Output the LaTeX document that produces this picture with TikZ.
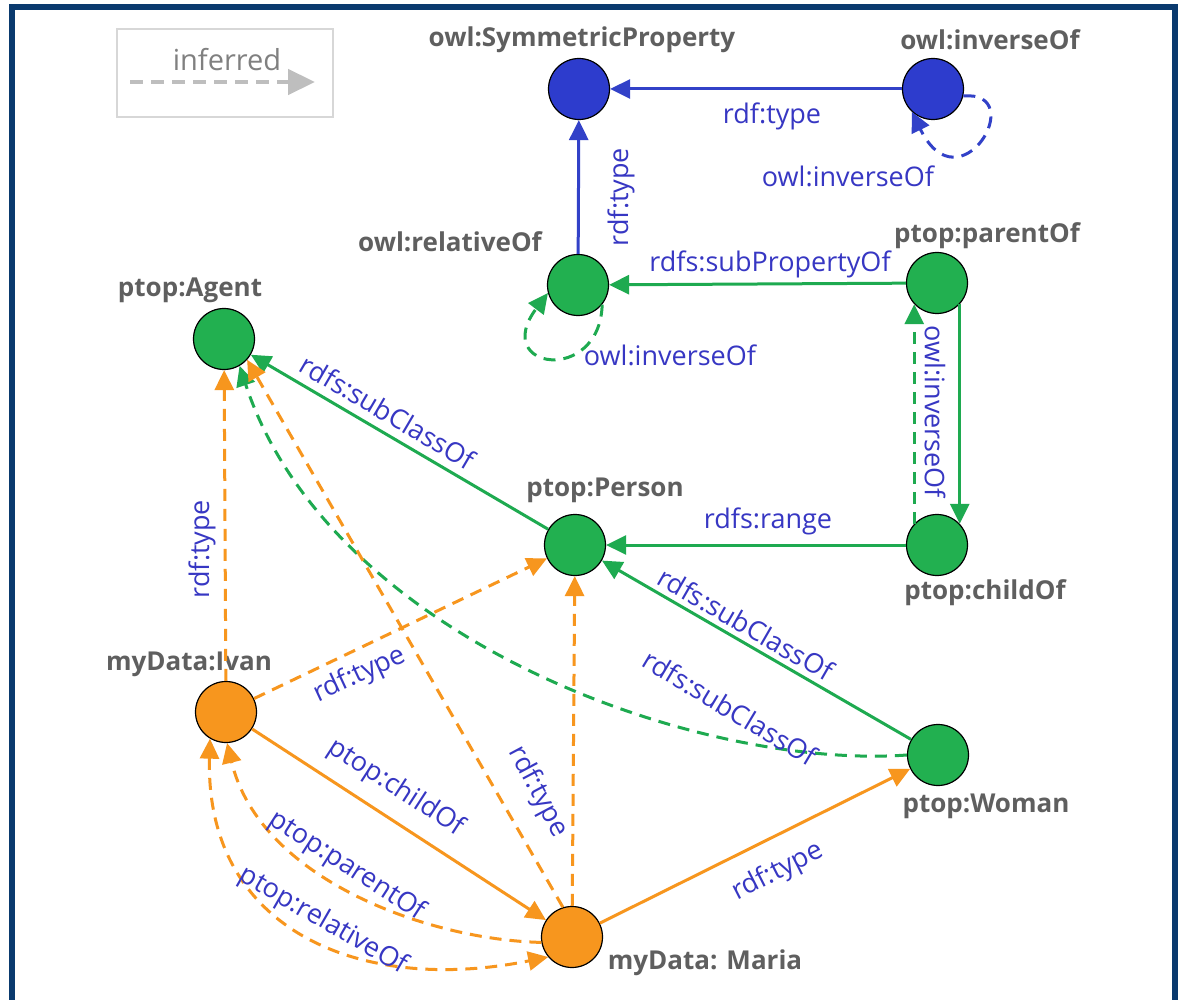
\documentclass[tikz,border=0pt]{standalone}
\usepackage{fontspec}
\setmainfont{Open Sans}
\usetikzlibrary{arrows.meta}
\definecolor{nblue}{RGB}{45,60,205}
\definecolor{ngreen}{RGB}{34,176,80}
\definecolor{norange}{RGB}{247,150,30}
\definecolor{eblue}{RGB}{50,65,200}
\definecolor{egreen}{RGB}{30,170,80}
\definecolor{eorange}{RGB}{247,150,30}
\definecolor{lblue}{RGB}{55,55,195}
\definecolor{labgray}{RGB}{95,95,95}
\definecolor{framecol}{RGB}{10,58,110}
\definecolor{legbox}{RGB}{215,215,215}
\definecolor{legtext}{RGB}{128,128,128}
\definecolor{legline}{RGB}{190,190,190}
\tikzset{
  vtx/.style={circle, draw=black, line width=1.2pt, minimum size=61pt, inner sep=0pt},
  bluev/.style={vtx, fill=nblue},
  greenv/.style={vtx, fill=ngreen},
  orangev/.style={vtx, fill=norange},
  nlab/.style={font=\fontsize{26}{30}\selectfont\bfseries, text=labgray, inner sep=1pt},
  elab/.style={font=\fontsize{27}{32}\selectfont, text=lblue, inner sep=0pt},
  conn/.style={line width=3pt},
  inf/.style={dash pattern=on 12pt off 8pt},
}
\begin{document}
\begin{tikzpicture}[x=1pt,y=-1pt,>={Triangle[length=20pt,width=19pt]}]
\useasboundingbox (0,0) rectangle (1184,1000);
\fill[white] (0,0) rectangle (1184,1000);
\draw[framecol, line width=6pt] (12,1010) -- (12,7.5) -- (1175,7.5) -- (1175,1010);

% legend
\node[draw=legbox, line width=1.5pt, minimum width=216pt, minimum height=88pt, inner sep=0pt] (legend) at (225,73) {};
\node[font=\fontsize{29}{33}\selectfont, text=legtext, inner sep=0pt] (leglab) at (227,60) {inferred};
\coordinate (lega) at (130,82);
\coordinate (legb) at (315,82);
\draw[legline, line width=4.5pt, dash pattern=on 13pt off 8pt, -{Triangle[length=27pt,width=25pt]}] (lega) -- (legb);

% vertices
\node[bluev] (symp) at (579,89) {};
\node[bluev] (inv) at (933,89) {};
\node[greenv] (rel) at (578,285) {};
\node[greenv] (par) at (937,283) {};
\node[greenv] (agent) at (224,339) {};
\node[greenv] (person) at (575,545) {};
\node[greenv] (child) at (937,545) {};
\node[orangev] (ivan) at (226,712) {};
\node[greenv] (woman) at (938,755) {};
\node[orangev] (maria) at (572,937) {};

% vertex names
\node[nlab] (tsymp) at (582,40) {owl:SymmetricProperty};
\node[nlab] (tinv) at (990,40) {owl:inverseOf};
\node[nlab] (trel) at (450,242) {owl:relativeOf};
\node[nlab] (tpar) at (987,236) {ptop:parentOf};
\node[nlab] (tagent) at (190,290) {ptop:Agent};
\node[nlab] (tperson) at (605,490) {ptop:Person};
\node[nlab] (tchild) at (985,593) {ptop:childOf};
\node[nlab] (tivan) at (189,664) {myData:Ivan};
\node[nlab] (twoman) at (986,806) {ptop:Woman};
\node[nlab] (tmaria) at (705,963) {myData: Maria};

% edges
\draw[conn, eblue, ->] (inv) -- (symp);
\draw[conn, eblue, inf, ->] (inv.-13) .. controls (1030,90) and (960,210) .. (inv.227);
\draw[conn, eblue, ->] (rel) -- (symp);
\draw[conn, egreen, ->] (par) -- (rel);
\draw[conn, egreen, inf, ->] (rel.-39) .. controls (600,385) and (490,370) .. (rel.195);
\draw[conn, egreen, ->] (par.-43) -- (child.43);
\draw[conn, egreen, inf, ->] (child.137) -- (par.223);
\draw[conn, egreen, ->] (child) -- (person);
\draw[conn, egreen, ->] (person) -- (agent);
\draw[conn, egreen, ->] (woman) -- (person);
\draw[conn, egreen, inf, ->] (woman.west) .. controls (700,770) and (330,640) .. (agent.-60);
\draw[conn, eorange, inf, ->] (ivan) -- (agent);
\draw[conn, eorange, inf, ->] (ivan) -- (person);
\draw[conn, eorange, inf, ->] (maria.107) -- (agent.-42);
\draw[conn, eorange, inf, ->] (maria) -- (person);
\draw[conn, eorange, ->] (maria) -- (woman);
\draw[conn, eorange, ->] (ivan) -- (maria);
\draw[conn, eorange, inf, ->] (maria.190) .. controls (430,940) and (260,880) .. (ivan.272);
\draw[conn, eorange, inf, <->] (ivan.239) .. controls (205,930) and (360,995) .. (maria.220);

% edge labels
\node[elab] (l1) at (772,116) {rdf:type};
\node[elab] (l2) at (848,176) {owl:inverseOf};
\node[elab, rotate=90] (l3) at (621,197) {rdf:type};
\node[elab] (l4) at (770,264) {rdfs:subPropertyOf};
\node[elab] (l5) at (670,355) {owl:inverseOf};
\node[elab, rotate=-90] (l6) at (935,412) {owl:inverseOf};
\node[elab] (l7) at (768,521) {rdfs:range};
\node[elab, rotate=-30.5] (l8) at (388,412) {rdfs:subClassOf};
\node[elab, rotate=90] (l9) at (202,549) {rdf:type};
\node[elab, rotate=-30] (l10) at (746,624) {rdfs:subClassOf};
\node[elab, rotate=-31] (l11) at (730,708) {rdfs:subClassOf};
\node[elab, rotate=25] (l12) at (360,675) {rdf:type};
\node[elab, rotate=-62] (l13) at (538,792) {rdf:type};
\node[elab, rotate=-33] (l14) at (396,788) {ptop:childOf};
\node[elab, rotate=-33] (l15) at (347,866) {ptop:parentOf};
\node[elab, rotate=-30] (l16) at (323,921) {ptop:relativeOf};
\node[elab, rotate=27] (l17) at (778,872) {rdf:type};
\end{tikzpicture}
\end{document}
